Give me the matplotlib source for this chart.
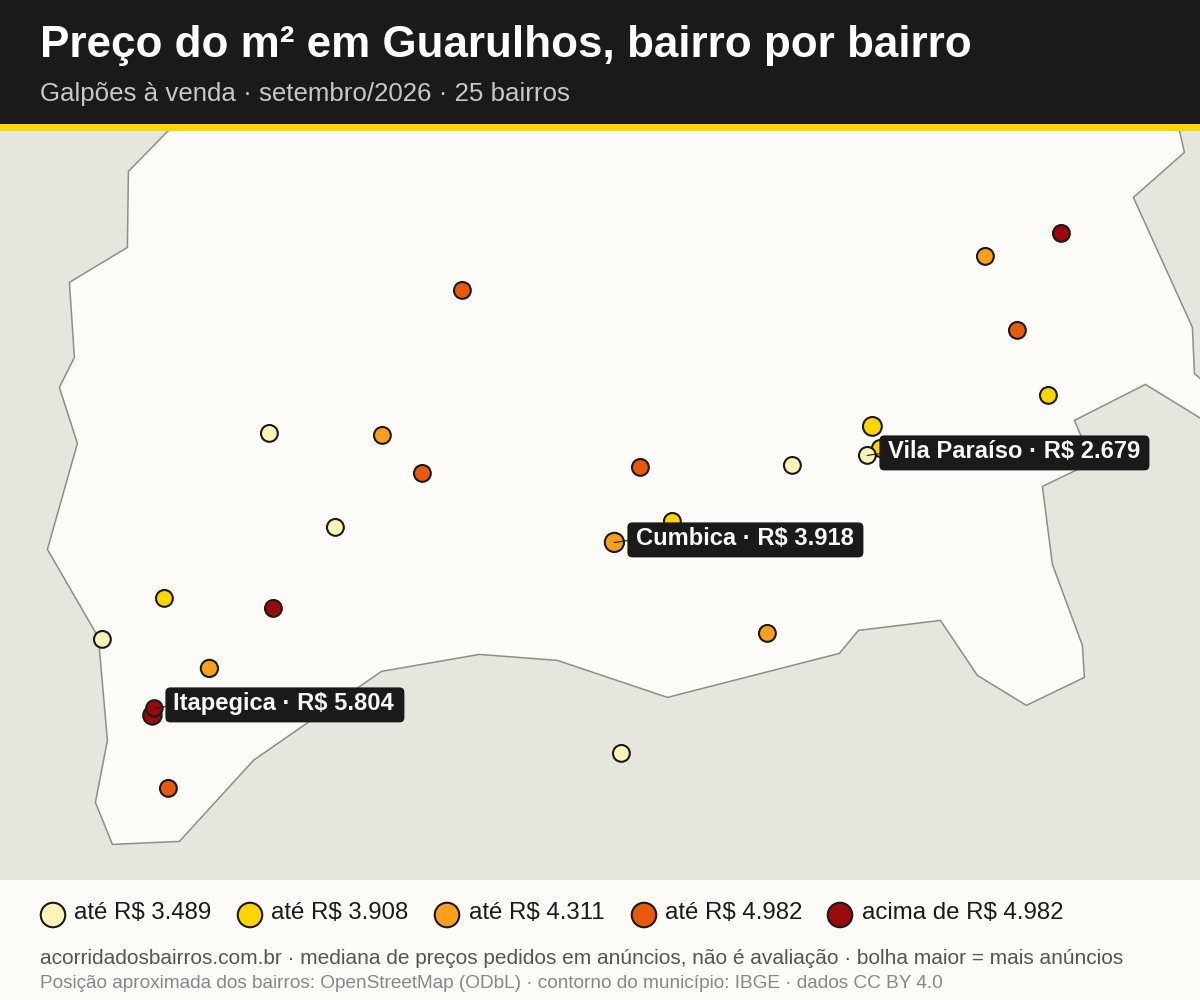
import matplotlib
matplotlib.use("Agg")
import matplotlib.pyplot as plt
from matplotlib.patches import Polygon, Ellipse, Rectangle, FancyBboxPatch

plt.rcParams['font.family'] = ['Liberation Sans', 'DejaVu Sans']

TITLE = "Preço do m² em Guarulhos, bairro por bairro"
SUBTITLE = "Galpões à venda · setembro/2026 · 25 bairros"
FOOT1 = "acorridadosbairros.com.br · mediana de preços pedidos em anúncios, não é avaliação · bolha maior = mais anúncios"
FOOT2 = "Posição aproximada dos bairros: OpenStreetMap (ODbL) · contorno do município: IBGE · dados CC BY 4.0"

outline_x = [177,128,127,69,74,59,77,47,98,107,95,112,179,253,381,479,557,667,839,858,940,977,1026,1084,1082,1052,1042,1092,1074,1145,1215,1215,1194,1192,1133,1184,1177]
outline_y = [121,171,247,282,357,387,443,549,637,740,802,844,841,760,671,654,660,697,653,630,620,675,705,677,645,564,486,462,420,384,427,392,373,327,197,152,121]

class_colors = ['#FFF3B8', '#FFD500', '#FF9F1C', '#E8590C', '#9B0A0A']
legend_labels = ['até R$ 3.489', 'até R$ 3.908', 'até R$ 4.311', 'até R$ 4.982', 'acima de R$ 4.982']

pt_x = [269,335,102,621,792, 164,672,880,872,1048, 382,209,614,767,985, 462,422,640,168,1017, 273,152,154,1061, 867]
pt_y = [433,527,639,753,465, 598,521,448,426,395, 435,668,542,633,256, 290,473,467,788,330, 608,715,708,233, 455]
pt_class = [0,0,0,0,0, 1,1,1,1,1, 2,2,2,2,2, 3,3,3,3,3, 4,4,4,4, 0]
pt_radius = [8.4,8.4,8.4,8.4,8.4, 8.4,8.4,8.4,9.4,8.4, 8.4,8.6,9.6,8.4,8.4, 8.4,8.4,8.4,8.4,8.4, 8.4,9.2,8.2,8.4, 8.4]

callout_names = ['Vila Paraíso · R$ 2.679', 'Cumbica · R$ 3.918', 'Itapegica · R$ 5.804']
callout_pts = [(867,455),(614,542),(154,708)]
callout_text_x = [888,636,173]
callout_baseline = [458,545,710]
callout_box_l = [879,627,165]
callout_box_r = [1149,863,404]
callout_box_t = [435,522,687]

DARK = '#1A1A1A'
PAPER = '#FCFBF8'
fig = plt.figure(figsize=(12,10), dpi=100, facecolor=PAPER)

# header
fig.add_artist(Rectangle((0,1-124/1000),1,124/1000,transform=fig.transFigure,fc=DARK,ec='none'))
fig.add_artist(Rectangle((0,1-131/1000),1,7/1000,transform=fig.transFigure,fc='#FFD500',ec='none'))
fig.text(40/1200,1-57/1000,TITLE,fontsize=31.68,fontweight='bold',color='#FFFFFF',va='baseline',ha='left')
fig.text(40/1200,1-101/1000,SUBTITLE,fontsize=18.6,color='#C8C8C8',va='baseline',ha='left')

# map
ax = fig.add_axes([0,1-880/1000,1,749/1000])
ax.set_xlim(-0.4,1199.6); ax.set_ylim(879.6,130.6); ax.axis('off')
ax.add_patch(Rectangle((-1,130),1202,751,fc='#E6E6DF',ec='none',zorder=0))
ax.add_patch(Polygon(list(zip(outline_x,outline_y)),closed=True,fc=PAPER,ec='#8E8E86',lw=1.1,zorder=1))
for x,y,c,r in zip(pt_x,pt_y,pt_class,pt_radius):
    ax.add_patch(Ellipse((x,y),2*r,2*r,fc=class_colors[c],ec=DARK,lw=1.5,zorder=3))
for name,(px,py),tx,by,l,r,t in zip(callout_names,callout_pts,callout_text_x,callout_baseline,callout_box_l,callout_box_r,callout_box_t):
    ax.add_patch(FancyBboxPatch((l+5,t+5),r-l-10,25,boxstyle='round,pad=5,rounding_size=5',fc=DARK,ec='none',zorder=4))
    ax.plot([px,l+2],[py,py-2],color=DARK,lw=0.8,zorder=5)
    ax.text(tx,by,name,fontsize=17.15,fontweight='bold',color='#F8F8F8',ha='left',va='baseline',zorder=6)

# legend + footer
lg = fig.add_axes([0,0,1,0.12])
lg.set_xlim(0,1200); lg.set_ylim(1000,880); lg.axis('off')
for cx,tx,c,lab in zip([53,250,447,644,840],[74,271,469,665,862],class_colors,legend_labels):
    lg.add_patch(Ellipse((cx,915),24.5,24.5,fc=c,ec=DARK,lw=1.5))
    lg.text(tx,919,lab,fontsize=17.25,color=DARK,va='baseline',ha='left')
lg.text(40,964,FOOT1,fontsize=15.05,color='#555555',va='baseline',ha='left')
lg.text(40,988,FOOT2,fontsize=13.68,color='#888888',va='baseline',ha='left')

fig.savefig('out.png',dpi=100)
